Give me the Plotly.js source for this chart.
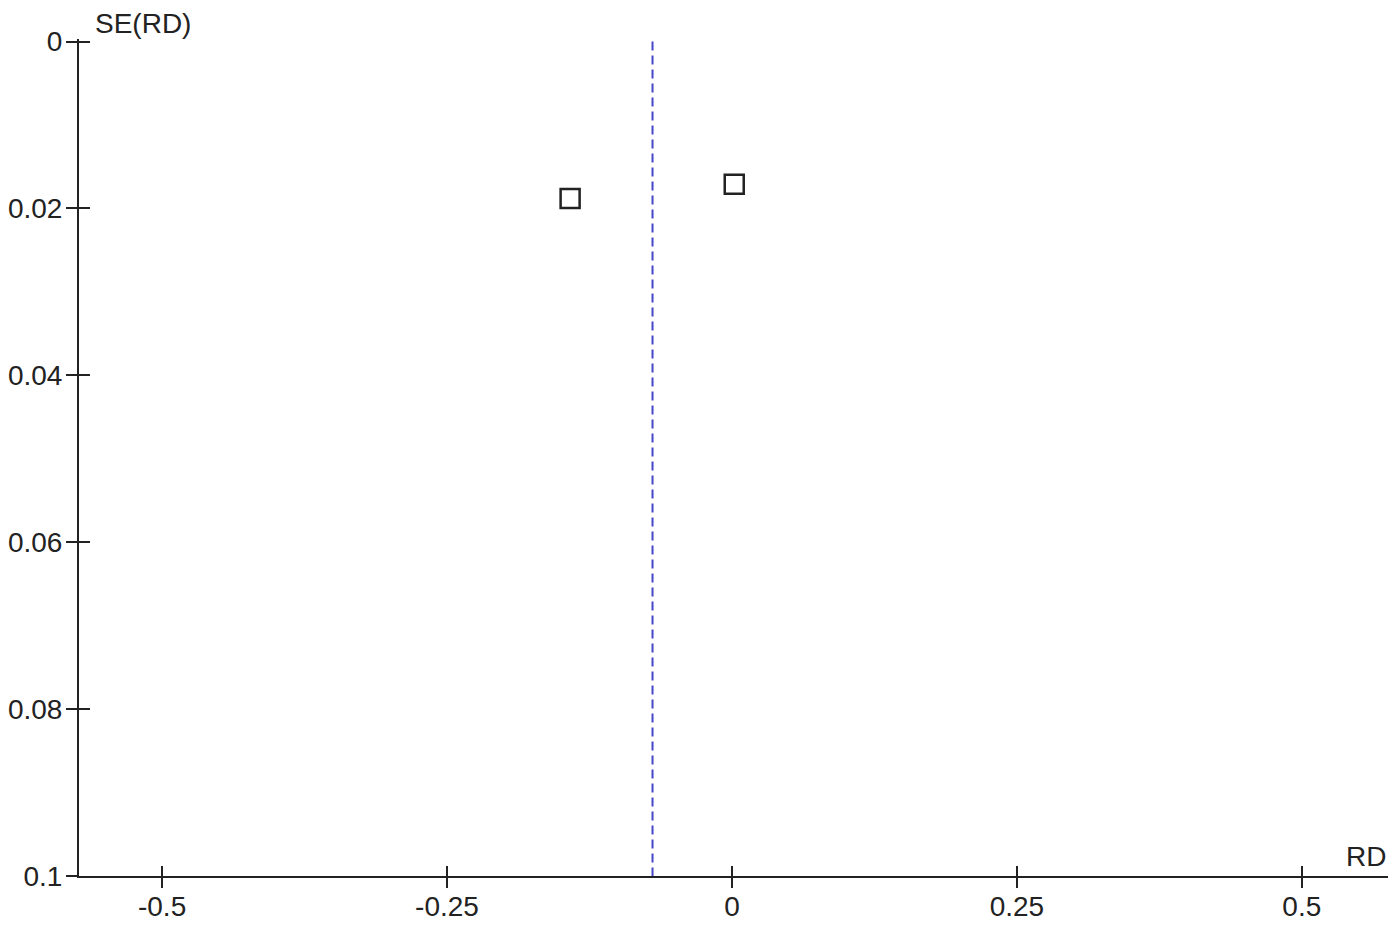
<!DOCTYPE html>
<html>
<head>
<meta charset="utf-8">
<script src="https://cdn.plot.ly/plotly-3.0.1.min.js"></script>
<style>
  html, body { margin: 0; padding: 0; background: #ffffff; }
  #funnel { width: 1400px; height: 936px; }
</style>
</head>
<body>
<div id="funnel"></div>
<script>
// study estimates (risk difference) and their standard errors
var studyRD = [-0.142, 0.002];
var studySE = [0.0188, 0.0171];

// pooled estimate, drawn as the dashed vertical line
var pooledRD = -0.0697;
var pooledSE = [0, 0.1];

var xTicks = [-0.5, -0.25, 0, 0.25, 0.5];
var xTickText = ['-0.5', '-0.25', '0', '0.25', '0.5'];
var yTicks = [0, 0.02, 0.04, 0.06, 0.08, 0.1];
var yTickText = ['0', '0.02', '0.04', '0.06', '0.08', '0.1'];

var xRange = [-0.5729, 0.5756];
// a little headroom above 0 so the inner half of the top tick is still drawn
var yRange = [0.1, -0.0003];

var font = { family: 'Liberation Sans, Arial, sans-serif', size: 28, color: '#222222' };

var studies = {
    x: studyRD,
    y: studySE,
    type: 'scatter',
    mode: 'markers',
    marker: {
        symbol: 'square-open',
        size: 19,
        color: '#222222',
        line: { width: 2.5, color: '#222222' }
    },
    hoverinfo: 'x+y'
};

// pooled line sits on the overlay axes, which only carry the inner tick halves
var pooled = {
    x: [pooledRD, pooledRD],
    y: pooledSE,
    xaxis: 'x2',
    yaxis: 'y2',
    type: 'scatter',
    mode: 'lines',
    line: { color: '#4646c8', width: 2, dash: '9px,5px' },
    hoverinfo: 'skip'
};

var baseAxis = {
    showgrid: false,
    zeroline: false,
    showline: true,
    linecolor: '#222222',
    linewidth: 2,
    tickmode: 'array',
    tickwidth: 2,
    tickcolor: '#222222',
    tickfont: font
};

var layout = {
    width: 1400,
    height: 936,
    margin: { l: 79, r: 12, t: 39, b: 60 },
    paper_bgcolor: '#ffffff',
    plot_bgcolor: '#ffffff',
    showlegend: false,
    xaxis: Object.assign({}, baseAxis, {
        range: xRange,
        tickvals: xTicks,
        ticktext: xTickText,
        ticks: 'outside',
        ticklen: 10,
        ticklabelstandoff: -6
    }),
    yaxis: Object.assign({}, baseAxis, {
        range: yRange,
        tickvals: yTicks,
        ticktext: yTickText,
        ticks: 'outside',
        ticklen: 11,
        ticklabelstandoff: -2
    }),
    xaxis2: Object.assign({}, baseAxis, {
        overlaying: 'x',
        anchor: 'y2',
        side: 'bottom',
        range: xRange,
        tickvals: xTicks,
        ticks: 'inside',
        ticklen: 10,
        showticklabels: false
    }),
    yaxis2: Object.assign({}, baseAxis, {
        overlaying: 'y',
        anchor: 'x2',
        side: 'left',
        range: yRange,
        tickvals: yTicks,
        ticks: 'inside',
        ticklen: 11,
        showticklabels: false
    }),
    annotations: [
        {
            text: 'SE(RD)',
            xref: 'paper', yref: 'paper',
            x: 0.011, y: 1.0,
            xanchor: 'left', yanchor: 'bottom',
            yshift: -2,
            showarrow: false,
            font: font
        },
        {
            text: 'RD',
            xref: 'paper', yref: 'paper',
            x: 1.0, y: 0.0,
            xanchor: 'right', yanchor: 'bottom',
            yshift: 2,
            showarrow: false,
            font: font
        }
    ]
};

var config = {
    displayModeBar: false,
    staticPlot: true
};

Plotly.newPlot('funnel', [pooled, studies], layout, config);
</script>
</body>
</html>
